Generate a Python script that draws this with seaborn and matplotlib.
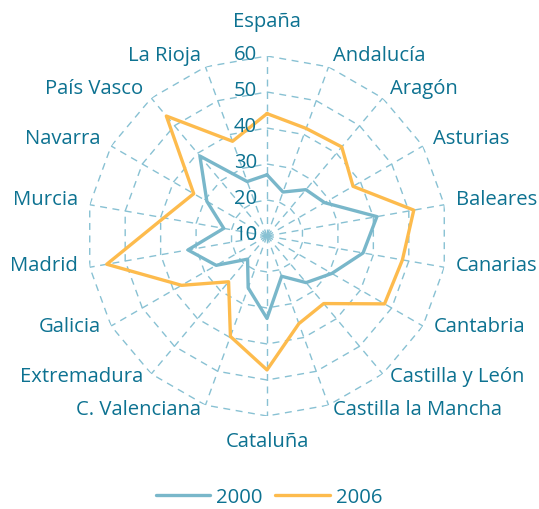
import numpy as np
import pandas as pd
import matplotlib
matplotlib.use("Agg")
import matplotlib.pyplot as plt
from matplotlib.lines import Line2D
import seaborn as sns

categories = ["España", "Andalucía", "Aragón", "Asturias", "Baleares", "Canarias",
              "Cantabria", "Castilla y León", "Castilla la Mancha", "Cataluña",
              "C. Valenciana", "Extremadura", "Galicia", "Madrid", "Murcia",
              "Navarra", "País Vasco", "La Rioja"]
values_2000 = [27, 23, 26.8, 28.5, 41, 37.1, 30.8, 26.9, 21.9, 32.9,
               25.3, 18.4, 26.3, 32.3, 22.2, 29.3, 39, 26.1]
values_2006 = [44, 41.8, 42.3, 37.6, 51.4, 48.2, 47.7, 34.5, 35.9, 47.2,
               39.7, 26.6, 37.4, 55.2, 39.1, 33.5, 53.5, 38]
series_names = ["2000", "2006"]
r_ticks = [10, 20, 30, 40, 50, 60]

sns.set_theme(style="white")
plt.rcParams["font.family"] = ["Open Sans", "DejaVu Sans"]

TEXT = "#0d7291"
GRID = "#88c1d3"
COLORS = {"2000": "#79b7ca", "2006": "#fdbb4d"}
FS = 14.6

W, H = 539, 510
fig = plt.figure(figsize=(W / 100, H / 100), dpi=100)
cx, cy, R = 267, 237, 180
ax = fig.add_axes([(cx - R) / W, (H - cy - R) / H, 2 * R / W, 2 * R / H], projection="polar")
ax.set_theta_offset(np.pi / 2)
ax.set_theta_direction(-1)
ax.set_ylim(r_ticks[0], r_ticks[-1])
ax.set_xticks([])
ax.set_yticks([])
ax.grid(False)
ax.spines["polar"].set_visible(False)
ax.set_facecolor("none")

n = len(categories)
theta = np.arange(n) * 2 * np.pi / n
theta_closed = np.append(theta, 2 * np.pi)

# polygon grid rings
for rv in r_ticks[1:]:
    ax.plot(theta_closed, [rv] * (n + 1), color=GRID, lw=1.0, ls=(0, (5, 4)), zorder=1)
# spokes
for t in theta:
    ax.plot([t, t], [r_ticks[0], r_ticks[-1]], color=GRID, lw=1.0, ls=(0, (5, 4)), zorder=1)

rows = []
for name, vals in zip(series_names, [values_2000, values_2006]):
    vc = list(vals) + [vals[0]]
    for i, (t, v) in enumerate(zip(theta_closed, vc)):
        rows.append({"year": name, "theta": t, "value": v, "order": i})
df = pd.DataFrame(rows)

sns.lineplot(data=df, x="theta", y="value", hue="year", units="year", estimator=None,
             sort=False, palette=COLORS, lw=2.4, ax=ax, legend=False, zorder=3)
ax.set_xlabel("")
ax.set_ylabel("")

# radial tick labels
for rv in r_ticks:
    ax.annotate(str(rv), xy=(0, rv), xytext=(-10, 1.5), textcoords="offset pixels",
                ha="right", va="center", fontsize=FS, color=TEXT, zorder=4)

# category labels (positions in pixels relative to centre)
for t, lab in zip(theta, categories):
    s, c = np.sin(t), np.cos(t)
    if abs(s) < 0.05:
        dx = 0
        dy = 215 if c > 0 else -205
        ha = "center"
    else:
        dx = 192 * s
        dy = 188 * c + 4
        ha = "left" if s > 0 else "right"
    px, py = cx + dx, cy - dy
    fig.text(px / W, 1 - py / H, lab, ha=ha, va="center", fontsize=FS, color=TEXT)

handles = [Line2D([], [], color=COLORS[s], lw=2.4) for s in series_names]
fig.legend(handles, series_names, loc="center", bbox_to_anchor=(269 / W, 1 - 498 / H),
           ncol=2, frameon=False, fontsize=FS, labelcolor=TEXT, handlelength=2.7,
           handletextpad=0.3, columnspacing=0.6)

fig.savefig("out.png", dpi=100)
